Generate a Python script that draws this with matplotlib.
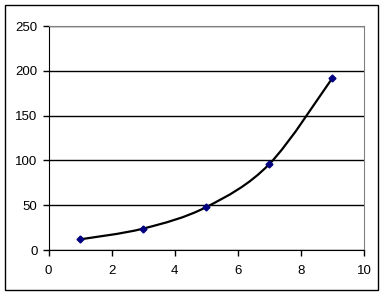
import numpy as np
import matplotlib.pyplot as plt
from matplotlib.path import Path
from matplotlib.patches import PathPatch, Rectangle

plt.rcParams['font.family'] = ['Liberation Sans', 'DejaVu Sans']

x = [1, 3, 5, 7, 9]
y = [12, 24, 48, 96, 192]

fig = plt.figure(figsize=(3.88, 2.96), dpi=100)
ax = fig.add_axes([0.125, 0.155, 0.813, 0.757])

# smoothed line like Excel (Catmull-Rom as Bezier segments)
pts = np.column_stack([x, y]).astype(float)
verts = [pts[0]]
codes = [Path.MOVETO]
n = len(pts)
for i in range(n - 1):
    p0 = pts[max(i - 1, 0)]
    p1 = pts[i]
    p2 = pts[i + 1]
    p3 = pts[min(i + 2, n - 1)]
    c1 = p1 + (p2 - p0) / 6
    c2 = p2 - (p3 - p1) / 6
    verts += [c1, c2, p2]
    codes += [Path.CURVE4] * 3
ax.add_patch(PathPatch(Path(verts, codes), fill=False, lw=1.6, ec='black', zorder=3))
ax.plot(x, y, ls='none', marker='D', ms=3.5, color='#000080', zorder=4)

ax.set_xlim(0, 10)
ax.set_ylim(0, 250)
ax.set_xticks(range(0, 11, 2))
ax.set_yticks(range(0, 251, 50))
ax.yaxis.grid(True, color='black', lw=1)
ax.set_axisbelow(True)
for s in ['top', 'right']:
    ax.spines[s].set_color('#808080')
for s in ['left', 'bottom']:
    ax.spines[s].set_color('black')
ax.tick_params(direction='out', length=4, width=1, labelsize=9.5, pad=4)
ax.tick_params(axis='x', pad=7)

fig.add_artist(Rectangle((5 / 388, 1 - 290 / 296), 373 / 388, 285 / 296,
                         transform=fig.transFigure, fill=False, ec='black', lw=1))

fig.savefig('out.png', dpi=100)
